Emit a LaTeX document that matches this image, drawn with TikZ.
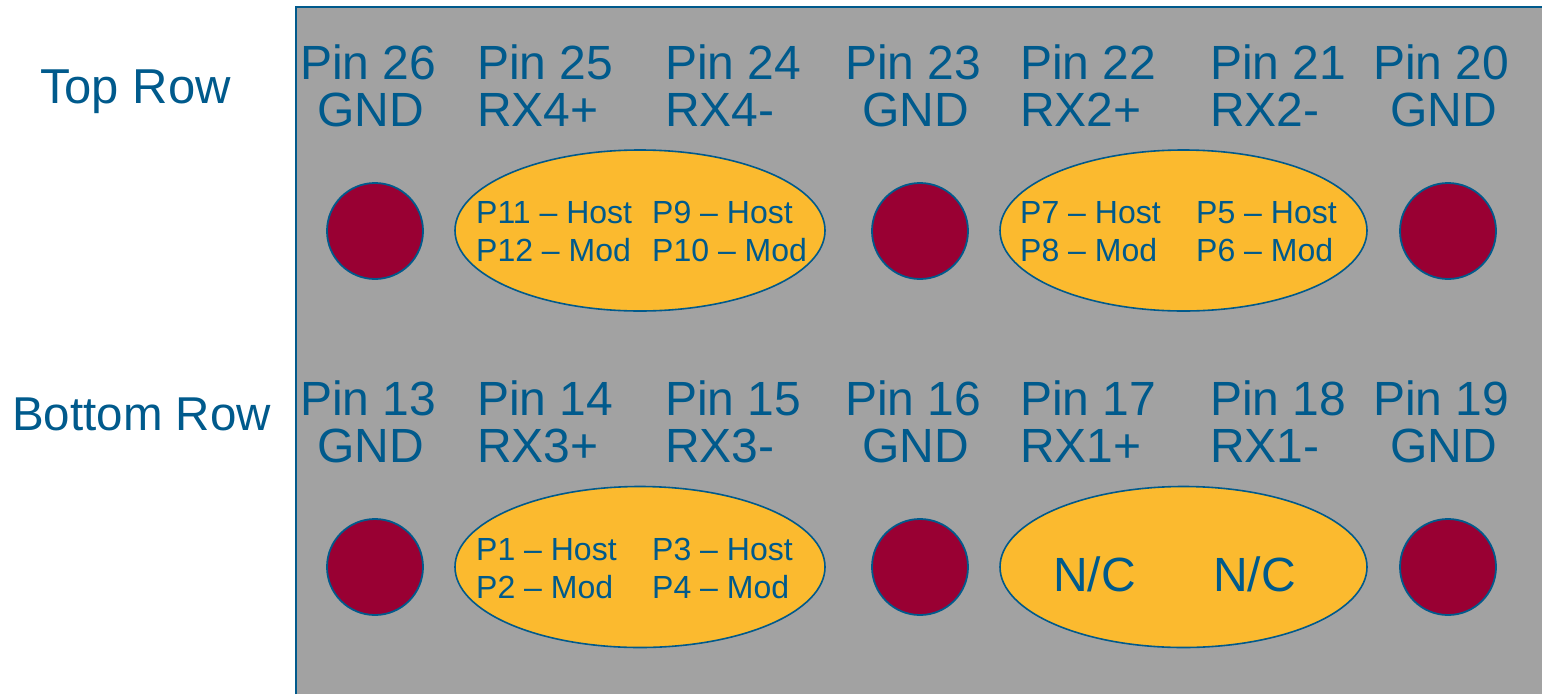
\documentclass[tikz,border=0pt]{standalone}
\usepackage{fontspec}
\setmainfont{Liberation Sans}
\usetikzlibrary{shapes.geometric}
\definecolor{txtblue}{RGB}{0,90,140}
\definecolor{bggray}{RGB}{162,162,162}
\definecolor{pinred}{RGB}{153,0,51}
\definecolor{pairorange}{RGB}{251,186,47}
\tikzset{
  biglbl/.style={font=\fontsize{48}{48}\selectfont, text=txtblue, inner sep=0pt, anchor=base west},
  smalllbl/.style={font=\fontsize{32}{38}\selectfont, text=txtblue, inner sep=0pt, anchor=base west},
  gndpin/.style={circle, fill=pinred, draw=txtblue, line width=1.8pt, minimum size=96pt, inner sep=0pt},
  pairoval/.style={ellipse, fill=pairorange, draw=txtblue, line width=1.6pt, minimum width=370pt, minimum height=161pt, inner sep=0pt}
}
\begin{document}
\begin{tikzpicture}[x=1pt,y=-1pt]
\useasboundingbox (0,0) rectangle (1542,694);
\fill[bggray] (296,7) rectangle (1542,694);
\draw[txtblue,line width=2.5pt] (296,694) -- (296,7) -- (1542,7);

% row titles
\node[biglbl, font=\fontsize{49}{49}\selectfont] (toprow) at (40,103) {Top Row};
\node[biglbl, font=\fontsize{47.5}{47.5}\selectfont] (botrow) at (12,430) {Bottom Row};

% top row pin labels
\node[biglbl] (p26) at (300,79) {Pin 26};
\node[biglbl] (s26) at (317,126) {GND};
\node[biglbl] (p25) at (477,79) {Pin 25};
\node[biglbl] (s25) at (477,126) {RX4+};
\node[biglbl] (p24) at (665,79) {Pin 24};
\node[biglbl] (s24) at (665,126) {RX4-};
\node[biglbl] (p23) at (845,79) {Pin 23};
\node[biglbl] (s23) at (862,126) {GND};
\node[biglbl] (p22) at (1020,79) {Pin 22};
\node[biglbl] (s22) at (1020,126) {RX2+};
\node[biglbl] (p21) at (1210,79) {Pin 21};
\node[biglbl] (s21) at (1210,126) {RX2-};
\node[biglbl] (p20) at (1373,79) {Pin 20};
\node[biglbl] (s20) at (1390,126) {GND};

% bottom row pin labels
\node[biglbl] (p13) at (300,415) {Pin 13};
\node[biglbl] (s13) at (317,462) {GND};
\node[biglbl] (p14) at (477,415) {Pin 14};
\node[biglbl] (s14) at (477,462) {RX3+};
\node[biglbl] (p15) at (665,415) {Pin 15};
\node[biglbl] (s15) at (665,462) {RX3-};
\node[biglbl] (p16) at (845,415) {Pin 16};
\node[biglbl] (s16) at (862,462) {GND};
\node[biglbl] (p17) at (1020,415) {Pin 17};
\node[biglbl] (s17) at (1020,462) {RX1+};
\node[biglbl] (p18) at (1210,415) {Pin 18};
\node[biglbl] (s18) at (1210,462) {RX1-};
\node[biglbl] (p19) at (1373,415) {Pin 19};
\node[biglbl] (s19) at (1390,462) {GND};

% ground pins
\node[gndpin] (c26) at (375,231) {};
\node[gndpin] (c23) at (920,231) {};
\node[gndpin] (c20) at (1448,231) {};
\node[gndpin] (c13) at (375,567) {};
\node[gndpin] (c16) at (920,567) {};
\node[gndpin] (c19) at (1448,567) {};

% pair ovals
\node[pairoval] (e1) at (640,230.5) {};
\node[pairoval, minimum width=367pt] (e2) at (1183.5,230.5) {};
\node[pairoval] (e3) at (640,567) {};
\node[pairoval, minimum width=367pt] (e4) at (1183.5,567) {};

% oval texts
\node[smalllbl] (t11) at (476,223) {P11 – Host};
\node[smalllbl] (t12) at (476,261) {P12 – Mod};
\node[smalllbl] (t9) at (652,223) {P9 – Host};
\node[smalllbl] (t10) at (652,261) {P10 – Mod};
\node[smalllbl] (t7) at (1020,223) {P7 – Host};
\node[smalllbl] (t8) at (1020,261) {P8 – Mod};
\node[smalllbl] (t5) at (1196,223) {P5 – Host};
\node[smalllbl] (t6) at (1196,261) {P6 – Mod};
\node[smalllbl] (t1) at (476,560) {P1 – Host};
\node[smalllbl] (t2) at (476,598) {P2 – Mod};
\node[smalllbl] (t3) at (652,560) {P3 – Host};
\node[smalllbl] (t4) at (652,598) {P4 – Mod};
\node[biglbl] (nc1) at (1053,591) {N/C};
\node[biglbl] (nc2) at (1213,591) {N/C};
\end{tikzpicture}
\end{document}
